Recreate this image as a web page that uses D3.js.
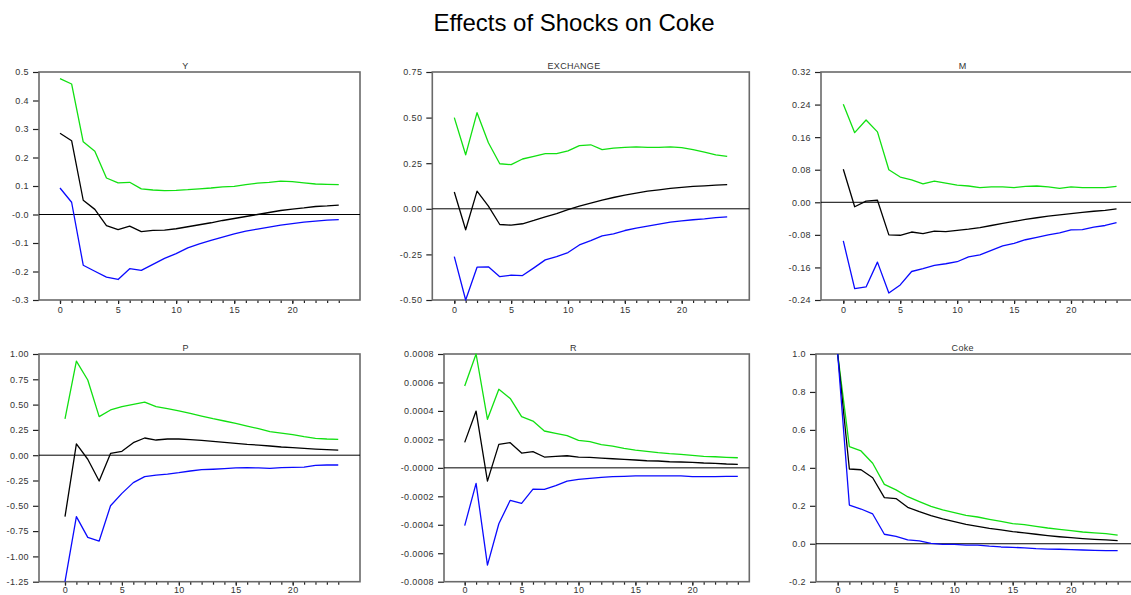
<!DOCTYPE html>
<html><head><meta charset="utf-8">
<script src="https://cdn.jsdelivr.net/npm/d3@7/dist/d3.min.js"></script>
<style>body{margin:0;background:#fff}svg{display:block}</style>
</head><body>
<svg id="chart" width="1131" height="595"></svg>
<script>
// ---------- data ----------
const chartTitle = "Effects of Shocks on Coke";
const steps = [0,1,2,3,4,5,6,7,8,9,10,11,12,13,14,15,16,17,18,19,20,21,22,23,24];
const xTickLabels = ["0","5","10","15","20"];
const xMajorTicks = [0,5,10,15,20];
const panelTitles = ["Y","EXCHANGE","M","P","R","Coke"];

const Y_upper = [0.477,0.458,0.255,0.222,0.128,0.111,0.113,0.090,0.086,0.084,0.085,0.087,0.090,0.093,0.097,0.099,0.105,0.110,0.113,0.117,0.115,0.111,0.107,0.106,0.105];
const Y_resp  = [0.285,0.259,0.050,0.018,-0.039,-0.053,-0.041,-0.060,-0.056,-0.055,-0.050,-0.043,-0.036,-0.029,-0.021,-0.014,-0.007,0.000,0.007,0.014,0.019,0.023,0.028,0.030,0.033];
const Y_lower = [0.093,0.043,-0.178,-0.199,-0.220,-0.228,-0.190,-0.196,-0.175,-0.154,-0.137,-0.117,-0.103,-0.091,-0.079,-0.068,-0.058,-0.051,-0.044,-0.037,-0.032,-0.027,-0.023,-0.020,-0.018];
const Y_ticks = [0.5,0.4,0.3,0.2,0.1,0.0,-0.1,-0.2,-0.3];
const Y_tickLabels = ["0.5","0.4","0.3","0.2","0.1","-0.0","-0.1","-0.2","-0.3"];

const EXCH_upper = [0.500,0.296,0.527,0.362,0.247,0.242,0.273,0.287,0.302,0.302,0.318,0.346,0.351,0.324,0.333,0.337,0.339,0.337,0.337,0.340,0.335,0.324,0.311,0.296,0.287];
const EXCH_resp  = [0.092,-0.115,0.097,0.015,-0.086,-0.090,-0.082,-0.064,-0.044,-0.026,-0.005,0.015,0.031,0.048,0.062,0.075,0.086,0.097,0.104,0.112,0.117,0.123,0.126,0.130,0.132];
const EXCH_lower = [-0.262,-0.500,-0.320,-0.318,-0.372,-0.364,-0.366,-0.324,-0.280,-0.262,-0.240,-0.198,-0.174,-0.148,-0.137,-0.119,-0.106,-0.095,-0.084,-0.073,-0.066,-0.060,-0.055,-0.048,-0.044];
const EXCH_ticks = [0.75,0.5,0.25,0,-0.25,-0.5];
const EXCH_tickLabels = ["0.75","0.50","0.25","0.00","-0.25","-0.50"];

const M_upper = [0.241,0.171,0.202,0.173,0.080,0.062,0.055,0.045,0.052,0.047,0.042,0.040,0.036,0.038,0.038,0.036,0.039,0.040,0.038,0.034,0.038,0.036,0.036,0.036,0.039];
const M_resp  = [0.081,-0.011,0.003,0.005,-0.080,-0.081,-0.073,-0.077,-0.071,-0.072,-0.069,-0.066,-0.062,-0.057,-0.052,-0.047,-0.042,-0.038,-0.034,-0.031,-0.028,-0.025,-0.022,-0.020,-0.016];
const M_lower = [-0.095,-0.212,-0.208,-0.147,-0.223,-0.203,-0.170,-0.163,-0.155,-0.151,-0.146,-0.134,-0.129,-0.118,-0.107,-0.101,-0.092,-0.086,-0.080,-0.075,-0.068,-0.067,-0.061,-0.057,-0.050];
const M_ticks = [0.32,0.24,0.16,0.08,0,-0.08,-0.16,-0.24];
const M_tickLabels = ["0.32","0.24","0.16","0.08","0.00","-0.08","-0.16","-0.24"];

const P_upper = [0.358,0.930,0.743,0.381,0.447,0.480,0.502,0.525,0.480,0.460,0.437,0.414,0.387,0.361,0.338,0.315,0.288,0.262,0.233,0.219,0.203,0.183,0.167,0.160,0.157];
const P_resp  = [-0.607,0.111,-0.040,-0.255,0.018,0.038,0.124,0.170,0.150,0.160,0.160,0.153,0.147,0.137,0.127,0.117,0.107,0.100,0.091,0.081,0.074,0.068,0.061,0.055,0.051];
const P_lower = [-1.250,-0.607,-0.812,-0.848,-0.499,-0.377,-0.271,-0.212,-0.196,-0.186,-0.173,-0.156,-0.143,-0.139,-0.133,-0.126,-0.123,-0.126,-0.130,-0.123,-0.120,-0.117,-0.100,-0.097,-0.097];
const P_ticks = [1,0.75,0.5,0.25,0,-0.25,-0.5,-0.75,-1,-1.25];
const P_tickLabels = ["1.00","0.75","0.50","0.25","0.00","-0.25","-0.50","-0.75","-1.00","-1.25"];

const R_upper = [0.000575,0.000800,0.000341,0.000552,0.000488,0.000360,0.000329,0.000259,0.000242,0.000226,0.000193,0.000184,0.000163,0.000153,0.000137,0.000125,0.000116,0.000107,0.000100,0.000095,0.000088,0.000081,0.000078,0.000074,0.000071];
const R_resp  = [0.000179,0.000399,-0.000093,0.000165,0.000177,0.000104,0.000114,0.000076,0.000081,0.000085,0.000076,0.000074,0.000069,0.000064,0.000060,0.000055,0.000050,0.000048,0.000043,0.000041,0.000039,0.000034,0.000032,0.000027,0.000025];
const R_lower = [-0.000406,-0.000109,-0.000683,-0.000393,-0.000228,-0.000249,-0.000149,-0.000151,-0.000125,-0.000093,-0.000081,-0.000074,-0.000067,-0.000062,-0.000060,-0.000057,-0.000057,-0.000057,-0.000057,-0.000057,-0.000062,-0.000062,-0.000062,-0.000060,-0.000060];
const R_ticks = [0.0008,0.0006,0.0004,0.0002,0,-0.0002,-0.0004,-0.0006,-0.0008];
const R_tickLabels = ["0.0008","0.0006","0.0004","0.0002","-0.0000","-0.0002","-0.0004","-0.0006","-0.0008"];

const Coke_upper = [1.000,0.512,0.489,0.424,0.313,0.284,0.248,0.222,0.197,0.178,0.164,0.150,0.141,0.129,0.118,0.106,0.101,0.092,0.083,0.076,0.069,0.062,0.057,0.053,0.046];
const Coke_resp  = [1.000,0.394,0.390,0.348,0.243,0.238,0.192,0.169,0.148,0.131,0.116,0.102,0.092,0.081,0.073,0.064,0.057,0.050,0.043,0.037,0.032,0.027,0.023,0.020,0.016];
const Coke_lower = [1.000,0.204,0.183,0.157,0.050,0.039,0.020,0.015,0.002,-0.003,-0.003,-0.007,-0.007,-0.013,-0.017,-0.019,-0.022,-0.026,-0.028,-0.029,-0.031,-0.033,-0.035,-0.036,-0.036];
const Coke_ticks = [1,0.8,0.6,0.4,0.2,0,-0.2];
const Coke_tickLabels = ["1.0","0.8","0.6","0.4","0.2","0.0","-0.2"];

// ---------- layout ----------
const panels = [
  {title:panelTitles[0], up:Y_upper, mid:Y_resp, lo:Y_lower, ticks:Y_ticks, labels:Y_tickLabels,
   l:39, r:360, t:72, b:300, x0:60, x20:292.3, tx:185.5, pad:2.5},
  {title:panelTitles[1], up:EXCH_upper, mid:EXCH_resp, lo:EXCH_lower, ticks:EXCH_ticks, labels:EXCH_tickLabels,
   l:432.3, r:749.3, t:72, b:300, x0:454.3, x20:681.7, tx:574, pad:2.5},
  {title:panelTitles[2], up:M_upper, mid:M_resp, lo:M_lower, ticks:M_ticks, labels:M_tickLabels,
   l:821, r:1139, t:72, b:300, x0:843.3, x20:1071, tx:962.7, pad:2.5},
  {title:panelTitles[3], up:P_upper, mid:P_resp, lo:P_lower, ticks:P_ticks, labels:P_tickLabels,
   l:39, r:360, t:354, b:581.7, x0:65, x20:292.7, tx:185.7, pad:1},
  {title:panelTitles[4], up:R_upper, mid:R_resp, lo:R_lower, ticks:R_ticks, labels:R_tickLabels,
   l:444, r:749.3, t:354, b:581.7, x0:464.7, x20:692.3, tx:573.3, pad:1},
  {title:panelTitles[5], up:Coke_upper, mid:Coke_resp, lo:Coke_lower, ticks:Coke_ticks, labels:Coke_tickLabels,
   l:816, r:1139, t:354, b:581.7, x0:837.7, x20:1071, tx:962.7, pad:1}
];

const svg = d3.select("#chart");
const FONT = "'Liberation Sans', Arial, Helvetica, sans-serif";
const frameColor = "#6a6a6a";
const labelColor = "#333";

svg.append("text")
  .attr("x", 574).attr("y", 31)
  .attr("text-anchor", "middle")
  .attr("font-family", FONT).attr("font-size", 24)
  .attr("fill", "#000")
  .text(chartTitle);

panels.forEach(p => {
  const g = svg.append("g");
  const x = d3.scaleLinear().domain([0, 20]).range([p.x0, p.x20]);
  const y = d3.scaleLinear().domain([p.ticks[p.ticks.length-1], p.ticks[0]]).range([p.b, p.t]);

  // y axis
  const ya = g.append("g").attr("transform", `translate(${p.l},0)`)
    .call(d3.axisLeft(y).tickValues(p.ticks).tickFormat((d,i)=>p.labels[i]).tickSize(6).tickPadding(4));
  ya.select(".domain").remove();
  ya.selectAll("line").attr("stroke", "#222").attr("stroke-width", 1.2);
  ya.selectAll("text").attr("font-family", FONT).attr("font-size", 9)
    .attr("letter-spacing", 0.4).attr("fill", labelColor);

  // x axis minor ticks
  const xm = g.append("g").attr("transform", `translate(0,${p.b})`)
    .call(d3.axisBottom(x).tickValues(steps).tickFormat("").tickSize(3));
  xm.select(".domain").remove();
  xm.selectAll("line").attr("stroke", "#222").attr("stroke-width", 1.2);
  // x axis major ticks
  const xa = g.append("g").attr("transform", `translate(0,${p.b})`)
    .call(d3.axisBottom(x).tickValues(xMajorTicks).tickFormat((d,i)=>xTickLabels[i]).tickSize(4).tickPadding(p.pad));
  xa.select(".domain").remove();
  xa.selectAll("line").attr("stroke", "#222").attr("stroke-width", 1.2);
  xa.selectAll("text").attr("font-family", FONT).attr("font-size", 9)
    .attr("letter-spacing", 0.4).attr("fill", labelColor);

  // frame
  g.append("rect").attr("x", p.l).attr("y", p.t).attr("width", p.r - p.l).attr("height", p.b - p.t)
    .attr("fill", "none").attr("stroke", frameColor).attr("stroke-width", 1.6);

  // zero line
  g.append("line").attr("x1", p.l).attr("x2", p.r).attr("y1", y(0)).attr("y2", y(0))
    .attr("stroke", "#000").attr("stroke-width", 1);

  // panel title
  g.append("text").attr("x", p.tx).attr("y", p.t - 3).attr("text-anchor", "middle")
    .attr("font-family", FONT).attr("font-size", 9).attr("letter-spacing", 0.3)
    .attr("fill", labelColor).text(p.title);

  const line = d3.line().x((d,i)=>x(steps[i])).y(d=>y(d));
  [[p.up, "#11e011"], [p.mid, "#000"], [p.lo, "#0a0aff"]].forEach(([vals, col]) => {
    g.append("path").datum(vals).attr("d", line)
      .attr("fill", "none").attr("stroke", col).attr("stroke-width", 1.3)
      .attr("stroke-linejoin", "round");
  });
});
</script>
</body></html>
